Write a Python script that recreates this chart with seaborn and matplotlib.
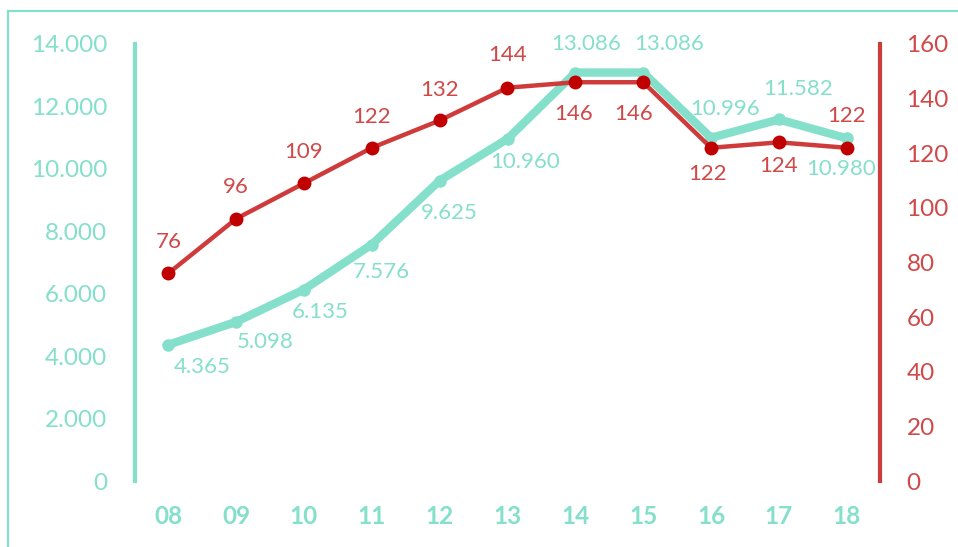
import matplotlib
matplotlib.use("Agg")
import matplotlib.pyplot as plt
import seaborn as sns
import pandas as pd
from matplotlib.patches import Rectangle
from matplotlib.ticker import FuncFormatter

years = ["08", "09", "10", "11", "12", "13", "14", "15", "16", "17", "18"]
teal_vals = [4365, 5098, 6135, 7576, 9625, 10960, 13086, 13086, 10996, 11582, 10980]
red_vals = [76, 96, 109, 122, 132, 144, 146, 146, 122, 124, 122]
left_ticks = [0, 2000, 4000, 6000, 8000, 10000, 12000, 14000]
right_ticks = [0, 20, 40, 60, 80, 100, 120, 140, 160]

# label offsets in pixels (dx, dy with +dy = up)
teal_off = [(34, -22), (29, -20), (16, -22), (10, -27), (10, -32), (18, -23),
            (11, 29), (26, 29), (14, 29), (19, 30), (-6, -31)]
red_off = [(1, 31), (0, 32), (0, 31), (0, 31), (0, 30), (0, 33),
           (-2, -32), (-10, -32), (-4, -26), (0, -24), (0, 32)]

TEAL = "#84DFCB"
RED_LINE = "#CF3B3B"
RED_MARK = "#C00000"
RED_TXT = "#D04848"

sns.set_style("white")
plt.rcParams["font.family"] = ["Lato", "DejaVu Sans"]

df = pd.DataFrame({"x": list(range(len(years))), "teal": teal_vals, "red": red_vals})

fig = plt.figure(figsize=(9.58, 5.47), dpi=100)
W, H = 958, 547
ax = fig.add_axes([135 / W, 1 - 481 / H, (880 - 135) / W, (481 - 44) / H])
ax2 = ax.twinx()

sns.lineplot(data=df, x="x", y="teal", ax=ax, color=TEAL, linewidth=6,
             marker="o", markersize=9, markeredgewidth=0, solid_joinstyle="miter")
sns.lineplot(data=df, x="x", y="red", ax=ax2, color=RED_LINE, linewidth=3.2,
             marker="o", markersize=10, markerfacecolor=RED_MARK,
             markeredgewidth=0)

ax.set_xlim(-0.49, 10.49)
ax.set_ylim(0, 14000)
ax2.set_ylim(0, 160)
ax.set_yticks(left_ticks)
ax2.set_yticks(right_ticks)
ax.yaxis.set_major_formatter(FuncFormatter(lambda v, p: f"{int(v):,}".replace(",", ".")))
ax.set_xticks(range(len(years)))
ax.set_xticklabels(years)

for a in (ax, ax2):
    a.set_xlabel("")
    a.set_ylabel("")
    a.grid(False)
    for s in a.spines.values():
        s.set_visible(False)
    a.patch.set_alpha(0)

ax.spines["left"].set_visible(True)
ax.spines["left"].set_color(TEAL)
ax.spines["left"].set_linewidth(3)
ax2.spines["right"].set_visible(True)
ax2.spines["right"].set_color(RED_LINE)
ax2.spines["right"].set_linewidth(3)

ax.tick_params(axis="y", length=0, pad=20, labelsize=17.5, labelcolor=TEAL)
ax.tick_params(axis="x", length=0, pad=17, labelsize=17.5, labelcolor=TEAL)
for lbl in ax.get_xticklabels():
    lbl.set_fontweight("bold")
ax2.tick_params(axis="y", length=0, pad=19, labelsize=17.5, labelcolor=RED_TXT)

for i, v in enumerate(teal_vals):
    ax.annotate(f"{v:,}".replace(",", "."), (i, v), xytext=teal_off[i],
                textcoords="offset pixels", ha="center", va="center",
                color=TEAL, fontsize=16)
for i, v in enumerate(red_vals):
    ax2.annotate(str(v), (i, v), xytext=red_off[i],
                 textcoords="offset pixels", ha="center", va="center",
                 color=RED_TXT, fontsize=16)

fig.patches.append(Rectangle((8 / W, -0.1), 2, 1 - 11 / H + 0.1, transform=fig.transFigure,
                             fill=False, edgecolor=TEAL, linewidth=1.6))

fig.savefig("out.png", dpi=100)
